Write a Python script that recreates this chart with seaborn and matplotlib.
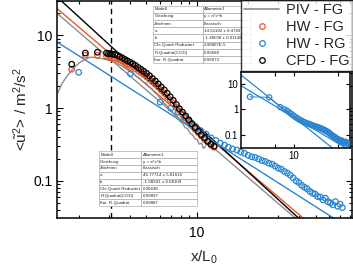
import matplotlib
matplotlib.use('Agg')
import numpy as np
import pandas as pd
import seaborn as sns
import matplotlib.pyplot as plt
from matplotlib.lines import Line2D
from matplotlib.ticker import LogLocator, NullFormatter, FixedLocator, FixedFormatter

# %% Data

# PIV - FG (grey line)
piv_x = [1.5, 1.6, 1.7, 1.8, 1.9, 2.05, 2.2, 2.35, 2.5, 2.7, 2.9, 3.08, 3.3,
         3.53, 3.75, 4.0, 4.2, 4.4, 4.6, 4.8, 5.0, 5.2, 5.4, 5.6, 5.8, 6.0,
         6.2, 6.4, 6.6, 6.8, 7.0, 7.3, 7.6, 7.9, 8.2, 8.5, 8.8, 9.1, 9.4,
         9.7, 10.0, 10.3, 10.6, 10.9, 11.2]
piv_y = [1.6, 2.2, 2.7, 3.2, 3.7, 4.3, 4.7, 5.0, 4.95, 4.8, 4.65, 4.5, 4.2,
         3.9, 3.55, 3.2, 3.0, 2.7, 2.55, 2.3, 2.2, 1.95, 1.85, 1.65, 1.55,
         1.4, 1.3, 1.15, 1.1, 0.98, 0.95, 0.82, 0.76, 0.66, 0.62, 0.54, 0.52,
         0.45, 0.43, 0.38, 0.37, 0.32, 0.33, 0.28, 0.30]

# HW - FG (orange circles) and CFD - FG (black circles)
fg_x = [1.82, 2.19, 2.58, 2.92, 3.0, 3.08, 3.17, 3.27, 3.38, 3.5, 3.62, 3.75,
        3.88, 4.03, 4.18, 4.33, 4.5, 4.67, 4.85, 5.04, 5.24, 5.45, 5.67, 5.9,
        6.14, 6.4, 6.66, 6.94, 7.23, 7.54, 7.86, 8.2, 8.56, 8.93, 9.32, 9.73,
        10.16, 10.6, 11.07, 11.56, 12.07, 12.6]
hw_fg_y = [3.42, 5.3, 5.3, 5.1, 5.0, 4.95, 4.9, 4.85, 4.75, 4.6, 4.45, 4.25,
           4.05, 3.85, 3.65, 3.45, 3.25, 3.05, 2.87, 2.68, 2.48, 2.3, 2.12,
           1.94, 1.76, 1.6, 1.44, 1.3, 1.16, 1.03, 0.92, 0.82, 0.73, 0.65,
           0.58, 0.51, 0.46, 0.41, 0.37, 0.34, 0.31, 0.29]
cfd_fg_y = [4.0, 5.7, 5.85, 5.7, 5.6, 5.6, 5.5, 5.45, 5.3, 5.1, 4.9, 4.65,
            4.45, 4.25, 4.05, 3.85, 3.6, 3.4, 3.2, 3.0, 2.78, 2.55, 2.35,
            2.15, 1.95, 1.78, 1.6, 1.43, 1.28, 1.12, 0.98, 0.88, 0.78, 0.69,
            0.61, 0.54, 0.48, 0.43, 0.39, 0.35, 0.32, 0.30]

# HW - RG (blue circles)
hw_rg_x = [2.0, 4.04, 6.05, 7.0, 7.7, 8.4, 9.1, 9.8, 10.5, 11.3, 12.1, 12.9,
           13.7, 14.5, 15.3, 16.2, 17.2, 18.1, 19.0, 20.0, 21.0, 22.0, 23.1,
           24.2, 25.3, 26.5, 27.7, 28.9, 30.1, 31.4, 32.7, 34.1, 35.5, 36.9,
           38.4, 39.9, 41.4, 43.0, 44.6, 46.3, 48.0, 49.7, 51.5, 53.4, 55.3,
           57.2, 59.2, 61.2, 63.3, 65.4, 67.5, 69.7, 72.0]
hw_rg_y = [3.1, 2.96, 1.21, 1.0, 0.88, 0.75, 0.64, 0.56, 0.49, 0.44, 0.39,
           0.36, 0.33, 0.31, 0.29, 0.275, 0.265, 0.25, 0.24, 0.225, 0.215,
           0.21, 0.2, 0.19, 0.185, 0.175, 0.17, 0.16, 0.15, 0.145, 0.135,
           0.128, 0.12, 0.11, 0.10, 0.095, 0.087, 0.082, 0.078, 0.072, 0.068,
           0.066, 0.061, 0.060, 0.055, 0.058, 0.052, 0.050, 0.047, 0.052,
           0.045, 0.048, 0.043]

# Power-law fit lines, two end points each
fit_x = [1.4, 90]
fit_black = [38.4, 0.0054]
fit_orange = [26.4, 0.0069]
fit_grey = [22.7, 0.0055]
fit_blue = [8.88, 0.0186]
fit_blue_steep = [24.0, 0.0060]

# Fit result tables
tab_top = [['Modell', 'Allometric1'],
           ['Gleichung', 'y = a*x^b'],
           ['Zeichnen', 'klassisch'],
           ['a', '14.61182 ± 0.4783'],
           ['b', '-1.48008 ± 0.01148'],
           ['Chi-Quadr Reduziert', '2.49807E-5'],
           ['R-Quadrat(COD)', '0.99688'],
           ['Kor. R-Quadrat', '0.99673']]
tab_bot = [['Modell', 'Allometric1'],
           ['Gleichung', 'y = a*x^b'],
           ['Zeichnen', 'klassisch'],
           ['a', '46.77714 ± 5.81615'],
           ['b', '-1.98941 ± 0.08109'],
           ['Chi-Quadr Reduziert', '0.00438'],
           ['R-Quadrat(COD)', '0.99897'],
           ['Kor. R-Quadrat', '0.99887']]

# colours
c_grey = '#8c8c8c'
c_orange = '#e8592a'
c_blue = '#2b85d0'
c_black = '#000000'

# %% Plot

sns.set_style('ticks')
plt.rcParams['font.family'] = ['Liberation Sans', 'DejaVu Sans']
plt.rcParams['mathtext.fontset'] = 'custom'
plt.rcParams['mathtext.rm'] = 'Liberation Sans'
plt.rcParams['mathtext.it'] = 'Liberation Sans'


def style_log_axes(axis, size, major_len, minor_len):
    axis.set_xscale('log')
    axis.set_yscale('log')
    axis.tick_params(which='both', direction='in', top=True, right=True,
                     labelsize=size, width=0.8, colors='black')
    axis.tick_params(which='major', length=major_len)
    axis.tick_params(which='minor', length=minor_len)
    for sp in axis.spines.values():
        sp.set_linewidth(1.1)
        sp.set_color('black')


def scatter_open(axis, x, y, color, size=16):
    sns.scatterplot(x=x, y=y, ax=axis, marker='o', s=size,
                    facecolor='none', edgecolor=color, linewidth=0.9,
                    zorder=3)


def add_table(axis, rows, bbox, col_w):
    tab = axis.table(cellText=rows, cellLoc='left', colWidths=col_w,
                     bbox=bbox, zorder=6)
    tab.auto_set_font_size(False)
    tab.set_fontsize(3.2)
    for (r, c), cell in tab.get_celld().items():
        cell.set_edgecolor('#9a9a9a')
        cell.set_linewidth(0.4)
        cell.set_facecolor('white')
        cell.PAD = 0.03
        if c == 1:
            cell._loc = 'center'
    return tab


fig = plt.figure(figsize=(3.53, 2.66), dpi=100)
ax = fig.add_axes([0.1615, 0.1805, 0.8355, 0.8175])
style_log_axes(ax, 10, 4, 2.2)

# fit lines
for ys, col in [(fit_grey, c_grey), (fit_orange, c_orange),
                (fit_black, c_black), (fit_blue, c_blue)]:
    sns.lineplot(x=fit_x, y=ys, ax=ax, color=col, linewidth=1.0,
                 sort=False, estimator=None, zorder=2)

# data
sns.lineplot(x=piv_x, y=piv_y, ax=ax, color=c_grey, linewidth=1.0,
             sort=False, estimator=None, zorder=2.5)
scatter_open(ax, fg_x, hw_fg_y, c_orange)
scatter_open(ax, hw_rg_x, hw_rg_y, c_blue)
scatter_open(ax, fg_x, cfd_fg_y, c_black)

ax.axvline(3.1, color='black', linestyle=(0, (4, 3)), linewidth=1.0,
           zorder=1)

ax.set_xlim(1.49, 82)
ax.set_ylim(0.031, 30)
ax.xaxis.set_major_locator(FixedLocator([10]))
ax.xaxis.set_major_formatter(FixedFormatter(['10']))
ax.xaxis.set_minor_locator(LogLocator(base=10, subs=np.arange(2, 10)))
ax.xaxis.set_minor_formatter(NullFormatter())
ax.yaxis.set_major_locator(FixedLocator([0.1, 1, 10]))
ax.yaxis.set_major_formatter(FixedFormatter(['0.1', '1', '10']))
ax.yaxis.set_minor_locator(LogLocator(base=10, subs=np.arange(2, 10)))
ax.yaxis.set_minor_formatter(NullFormatter())
ax.tick_params(axis='x', pad=6)
ax.set_xlabel(r'x/L$_\mathrm{0}$', fontsize=11, labelpad=6)
ax.set_ylabel(r'<$\mathrm{\tilde{u}^2}$> / m$^\mathrm{2}$/s$^\mathrm{2}$',
              fontsize=11, labelpad=2)
ax.legend().remove() if ax.get_legend() else None

# tables
add_table(ax, tab_top, [0.325, 0.711, 0.332, 0.266], [0.51, 0.49])
add_table(ax, tab_bot, [0.142, 0.055, 0.332, 0.252], [0.43, 0.57])

# legend
handles = [Line2D([], [], color=c_grey, linewidth=1.2),
           Line2D([], [], color=c_orange, marker='o', linestyle='none',
                  markerfacecolor='none', markersize=4, markeredgewidth=0.9),
           Line2D([], [], color=c_blue, marker='o', linestyle='none',
                  markerfacecolor='none', markersize=4, markeredgewidth=0.9),
           Line2D([], [], color=c_black, marker='o', linestyle='none',
                  markerfacecolor='none', markersize=4, markeredgewidth=0.9)]
leg = fig.legend(handles, ['PIV - FG', 'HW - FG', 'HW - RG', 'CFD - FG'],
                 loc='upper right', bbox_to_anchor=(1.0, 1.0),
                 fontsize=10.5, frameon=True, fancybox=False,
                 handlelength=2.4, handletextpad=0.5, labelspacing=0.2,
                 borderpad=0.2, borderaxespad=0.0)
leg.get_frame().set_edgecolor('black')
leg.get_frame().set_linewidth(1.0)

# inset
axi = fig.add_axes([0.683, 0.444, 0.309, 0.286])
style_log_axes(axi, 7, 3, 0)
for ys in [fit_blue_steep, fit_blue]:
    sns.lineplot(x=fit_x, y=ys, ax=axi, color=c_blue, linewidth=0.9,
                 sort=False, estimator=None, zorder=2)
sns.lineplot(x=hw_rg_x, y=hw_rg_y, ax=axi, color=c_blue, linewidth=0.7,
             sort=False, estimator=None, zorder=2.5)
scatter_open(axi, hw_rg_x, hw_rg_y, c_blue, size=14)
axi.set_xlim(1.45, 77)
axi.set_ylim(0.03, 30)
axi.xaxis.set_major_locator(FixedLocator([5, 10, 50]))
axi.xaxis.set_major_formatter(FixedFormatter(['', '10', '']))
axi.xaxis.set_minor_locator(FixedLocator([]))
axi.yaxis.set_major_locator(FixedLocator([0.1, 1, 10]))
axi.yaxis.set_major_formatter(FixedFormatter(['0.1', '1', '10']))
axi.yaxis.set_minor_locator(FixedLocator([]))
axi.tick_params(axis='x', pad=2)
axi.tick_params(axis='y', pad=2)
axi.set_xlabel('')
axi.set_ylabel('')

fig.savefig('out.png', dpi=100)
